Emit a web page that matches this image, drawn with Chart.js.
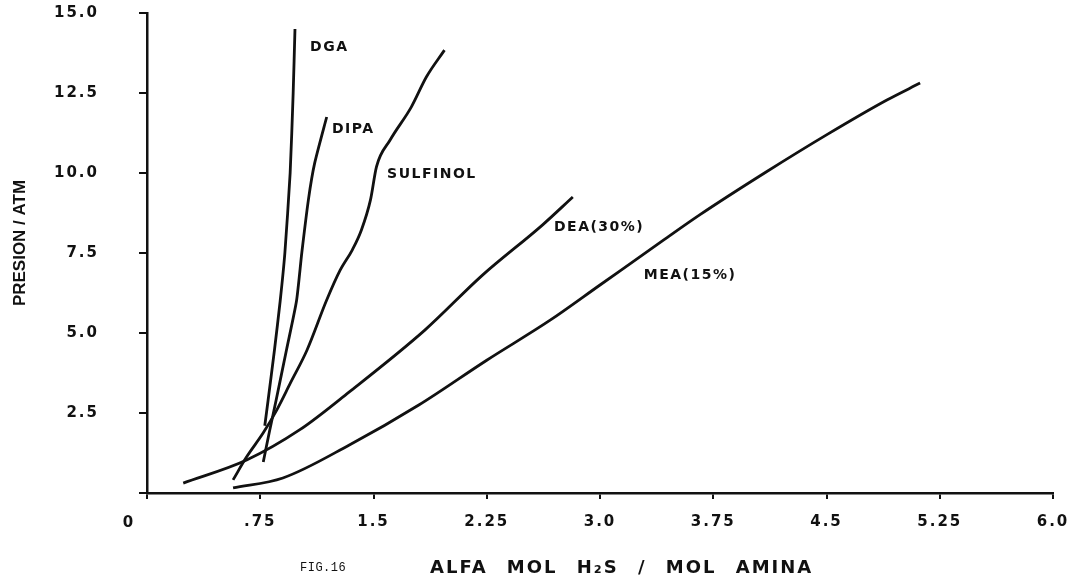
<!DOCTYPE html>
<html>
<head>
<meta charset="utf-8">
<title>Fig. 16 - Presion de H2S sobre soluciones de aminas</title>
<script src="https://cdn.jsdelivr.net/npm/chart.js@4.4.1/dist/chart.umd.min.js"></script>
<style>
    html, body { margin: 0; padding: 0; background: #fff; }
    #caja { position: relative; width: 1073px; height: 583px; }
</style>
</head>
<body>
<div id="caja"><canvas id="grafico"></canvas></div>
<script>
// carga alfa (mol H2S / mol amina) y presion parcial (atm) de cada solvente
const dgaX = [0.78, 0.802, 0.845, 0.882, 0.913, 0.948, 0.968, 0.98];
const dgaY = [2.1, 2.9, 4.5, 6.0, 7.5, 10.0, 12.5, 14.5];

const dipaX = [0.77, 0.81, 0.855, 0.925, 0.99, 1.025, 1.07, 1.11, 1.19];
const dipaY = [0.97, 1.9, 2.9, 4.5, 6.0, 7.5, 9.2, 10.3, 11.75];

const sulfinolX = [0.57, 0.66, 0.77, 0.86, 0.95, 1.06, 1.19, 1.28, 1.36, 1.42, 1.48, 1.52, 1.61, 1.75, 1.85, 1.97];
const sulfinolY = [0.41, 1.13, 1.88, 2.6, 3.44, 4.47, 6.03, 6.97, 7.6, 8.22, 9.16, 10.2, 11.03, 12.06, 13.0, 13.84];

const deaX = [0.24, 0.66, 1.01, 1.34, 1.84, 2.22, 2.62, 2.82];
const deaY = [0.31, 1.03, 1.97, 3.16, 5.09, 6.8, 8.38, 9.25];

const meaX = [0.57, 0.9, 1.34, 1.8, 2.25, 2.67, 3.0, 3.42, 3.66, 4.1, 4.5, 4.9, 5.12];
const meaY = [0.16, 0.47, 1.5, 2.75, 4.15, 5.4, 6.5, 7.9, 8.69, 10.03, 11.19, 12.28, 12.81];

const nombres = ['DGA', 'DIPA', 'SULFINOL', 'DEA(30%)', 'MEA(15%)'];

const xTicks = [0, 0.75, 1.5, 2.25, 3.0, 3.75, 4.5, 5.25, 6.0];
const xTickLabels = ['0', '.75', '1.5', '2.25', '3.0', '3.75', '4.5', '5.25', '6.0'];
const yTicks = [0, 2.5, 5.0, 7.5, 10.0, 12.5, 15.0];
const yTickLabels = ['', '2.5', '5.0', '7.5', '10.0', '12.5', '15.0'];

// donde va el nombre de cada curva (en unidades de los ejes)
const rotuloX = [1.08, 1.225, 1.59, 2.695, 3.29];
const rotuloY = [13.92, 11.36, 9.97, 8.31, 6.8];

const TINTA = '#111';
const LETRA = '"DejaVu Sans", sans-serif';

function puntos(xs, ys) {
    return xs.map((x, i) => ({ x: x, y: ys[i] }));
}

// las curvas casi verticales (DGA, DIPA) se suavizan con bezier; el resto, monotona en x
const series = [
    { xs: dgaX, ys: dgaY, casiVertical: true },
    { xs: dipaX, ys: dipaY, casiVertical: true },
    { xs: sulfinolX, ys: sulfinolY },
    { xs: deaX, ys: deaY },
    { xs: meaX, ys: meaY },
];

// textos que no son parte de los ejes: nombres de curvas, el cero, titulos
const rotulos = {
    id: 'rotulos',
    beforeDraw(chart) {
        chart.ctx.letterSpacing = '2px';
    },
    afterDraw(chart) {
        const { ctx, chartArea } = chart;
        const sx = chart.scales.x;
        const sy = chart.scales.y;
        ctx.save();
        ctx.fillStyle = TINTA;

        ctx.font = 'bold 14px ' + LETRA;
        ctx.letterSpacing = '1.5px';
        ctx.textAlign = 'left';
        ctx.textBaseline = 'middle';
        nombres.forEach((n, i) => {
            ctx.fillText(n, sx.getPixelForValue(rotuloX[i]), sy.getPixelForValue(rotuloY[i]));
        });

        // el cero del origen va corrido a la izquierda del eje
        ctx.font = 'bold 15px ' + LETRA;
        ctx.letterSpacing = '2px';
        ctx.textAlign = 'center';
        ctx.fillText('0', sx.getPixelForValue(0) - 18, chartArea.bottom + 30);

        // pie: numero de figura + titulo del eje x
        const pieY = chartArea.bottom + 75;
        ctx.font = '12px "Liberation Mono", monospace';
        ctx.letterSpacing = '0.5px';
        ctx.textAlign = 'left';
        ctx.fillText('FIG.16', 300, pieY);

        ctx.font = 'bold 18px ' + LETRA;
        ctx.letterSpacing = '2px';
        ctx.wordSpacing = '11px';
        ctx.fillText('ALFA MOL H\u2082S / MOL AMINA', 430, pieY);
        ctx.wordSpacing = '0px';

        // titulo del eje y, girado
        ctx.translate(20, 243);
        ctx.rotate(-Math.PI / 2);
        ctx.font = 'bold 17px "Liberation Sans", Arial, sans-serif';
        ctx.letterSpacing = '0px';
        ctx.textAlign = 'center';
        ctx.fillText('PRESION / ATM', 0, 0);
        ctx.restore();
    },
};

document.addEventListener('DOMContentLoaded', () => {
    const lienzo = document.getElementById('grafico');

    new Chart(lienzo, {
        type: 'scatter',
        data: {
            datasets: series.map((s, i) => ({
                label: nombres[i],
                data: puntos(s.xs, s.ys),
                showLine: true,
                borderColor: TINTA,
                borderWidth: 2.8,
                pointRadius: 0,
                pointHoverRadius: 0,
                cubicInterpolationMode: s.casiVertical ? 'default' : 'monotone',
                tension: s.casiVertical ? 0.2 : 0.4,
                fill: false,
            })),
        },
        options: {
            responsive: true,
            maintainAspectRatio: false,
            animation: false,
            events: [],
            layout: { padding: { top: 13, right: 20, left: 0, bottom: 0 } },
            plugins: {
                legend: { display: false },
                tooltip: { enabled: false },
            },
            scales: {
                x: {
                    type: 'linear',
                    min: 0,
                    max: 6,
                    afterBuildTicks: (scale) => { scale.ticks = xTicks.map(v => ({ value: v })); },
                    afterFit: (scale) => {
                        scale.height = 90;
                        scale.paddingLeft = 0;
                        scale.paddingRight = 10;
                    },
                    ticks: {
                        autoSkip: false,
                        maxRotation: 0,
                        color: TINTA,
                        padding: 14,
                        font: { family: LETRA, size: 15, weight: 'bold' },
                        callback: (v, i) => (i === 0 ? '' : xTickLabels[i]),
                    },
                    grid: { drawOnChartArea: false, drawTicks: true, tickLength: 6, color: TINTA, lineWidth: 2 },
                    border: { display: true, color: TINTA, width: 2.5 },
                },
                y: {
                    type: 'linear',
                    min: 0,
                    max: 15,
                    afterBuildTicks: (scale) => { scale.ticks = yTicks.map(v => ({ value: v })); },
                    afterFit: (scale) => {
                        // el padding de las etiquetas no debe empujar el area hacia abajo
                        scale.width = 147;
                        scale.paddingTop = 8;
                        scale.paddingBottom = 8;
                    },
                    ticks: {
                        color: TINTA,
                        padding: 40,
                        font: { family: LETRA, size: 15, weight: 'bold' },
                        callback: (v, i) => yTickLabels[i],
                    },
                    grid: { drawOnChartArea: false, drawTicks: true, tickLength: 8, color: TINTA, lineWidth: 2 },
                    border: { display: true, color: TINTA, width: 2.5 },
                },
            },
        },
        plugins: [rotulos],
    });
});
</script>
</body>
</html>
